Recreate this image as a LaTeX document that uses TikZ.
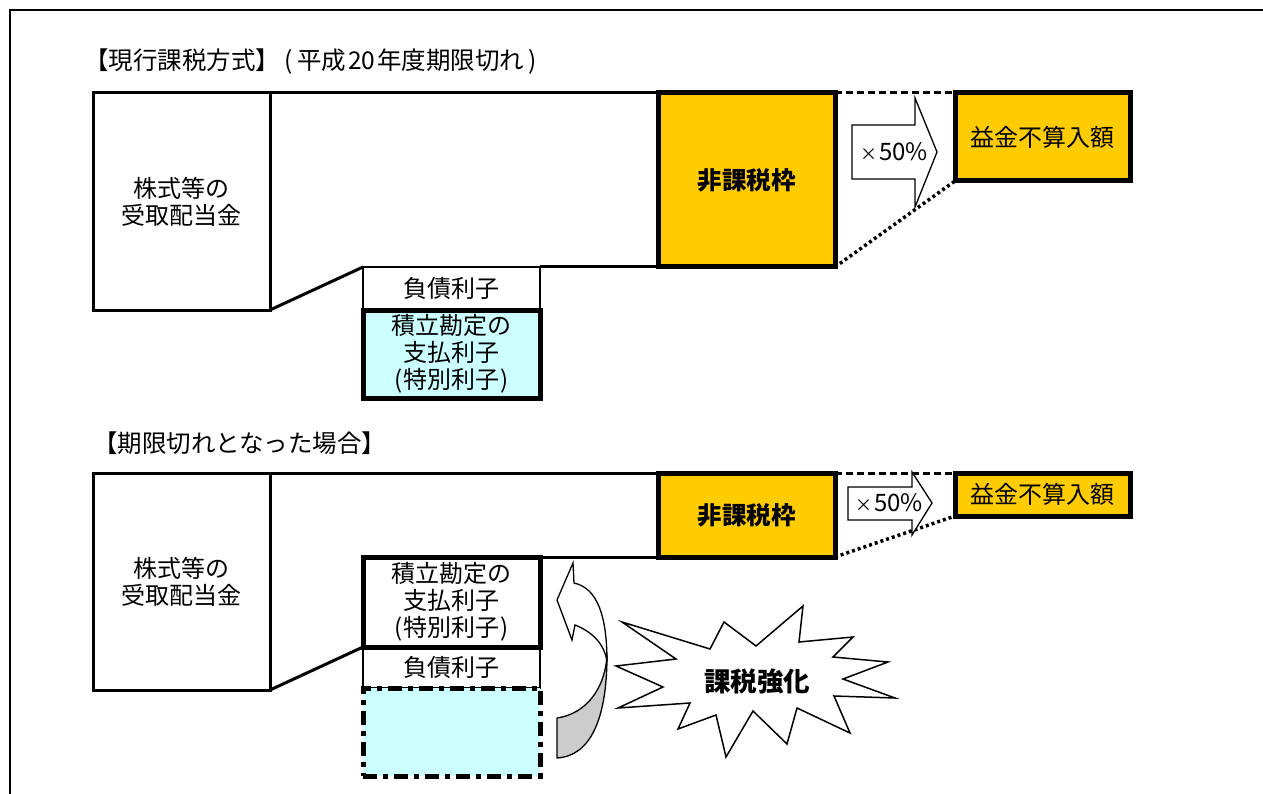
\documentclass[tikz,border=0pt]{standalone}
\usepackage{fontspec}
\setmainfont{Noto Sans CJK JP}
\definecolor{gold}{HTML}{FFCC00}
\definecolor{paleCyan}{HTML}{CCFFFF}
\definecolor{ribbonGrey}{HTML}{CCCCCC}
\newcommand{\smalltimes}{{\fontsize{17}{17}\selectfont ×}\hspace{2pt}}
\begin{document}
\begin{tikzpicture}[x=1pt,y=-1pt,
  every node/.style={inner sep=0pt,outer sep=0pt,align=center,font=\fontsize{24}{27}\selectfont},
  outline/.style={line width=3pt},
  plainbox/.style={draw,line width=3pt,minimum width=177},
  heavybox/.style={draw,line width=5pt,minimum width=177},
  goldbox/.style={draw,line width=5pt,fill=gold},
  thinside/.style={draw,line width=2pt,minimum width=177},
  dashlink/.style={line width=3pt,dash pattern=on 7pt off 4pt},
  dotlink/.style={line width=3.5pt,dash pattern=on 3pt off 3pt},
  blockarrow/.style={draw,line width=1.3pt,fill=white,line join=miter},
  titletext/.style={anchor=west,font=\fontsize{24.5}{27}\selectfont},
  boldtext/.style={font=\fontsize{24.5}{28}\selectfont\bfseries}
]
\useasboundingbox (0,0) rectangle (1263,794);
% outer frame
\coordinate (frameBL) at (10,794);
\coordinate (frameTL) at (10,10);
\coordinate (frameTR) at (1263,10);
\draw[line width=2.2pt] (frameBL) -- (frameTL) -- (frameTR);

% ===== upper part =====
\node[titletext] (title1) at (84,62) {【現行課税方式】\hspace{5pt}(\hspace{4pt}平成\hspace{2pt}20\hspace{2pt}年度期限切れ\hspace{4pt})};
\node[plainbox,minimum height=217] (left1) at (181.5,201.5) {株式等の\\受取配当金};
\node[thinside,minimum height=43,line width=2.5pt] (debt1) at (451.5,288.5) {負債利子};
\node[heavybox,fill=paleCyan,minimum height=88] (res1) at (451.5,354) {積立勘定の\\支払利子\\(\hspace{1pt}特別利子\hspace{1pt})};
\node[goldbox,minimum width=177,minimum height=174,boldtext] (free1) at (746.5,180) {非課税枠};
\node[goldbox,minimum width=175,minimum height=88] (excl1) at (1042.5,137) {益金不算入額};
\draw[outline] (left1.north east) -- (free1.north west);
\draw[outline] (left1.south east) -- (debt1.north west);
\draw[outline] (debt1.north east) -- (free1.south west);
\draw[dashlink] (free1.north east) -- (excl1.north west);
\draw[dotlink] (free1.south east) -- (excl1.south west);
\draw[blockarrow] (852,125) -- (915,125) -- (915,98) -- (937,152) -- (915,207) -- (915,179) -- (852,179) -- cycle;
\node (half1) at (894,152) {\smalltimes 50\%};

% ===== lower part =====
\node[titletext] (title2) at (93,443) {【期限切れとなった場合】};
\node[plainbox,minimum height=217] (left2) at (181.5,581.5) {株式等の\\受取配当金};
\node[goldbox,minimum width=177,minimum height=84,boldtext] (free2) at (746.5,515) {非課税枠};
\node[goldbox,minimum width=175,minimum height=43] (excl2) at (1042.5,494.5) {益金不算入額};
\node[thinside,minimum height=41] (debt2) at (451.5,667.5) {負債利子};
\node[heavybox,fill=white,minimum height=90] (res2) at (451.5,602) {積立勘定の\\支払利子\\(\hspace{1pt}特別利子\hspace{1pt})};
\node[draw,fill=paleCyan,line width=5pt,minimum width=177,minimum height=88,
      dash pattern=on 14pt off 6pt on 5pt off 6pt] (gone2) at (451.5,732) {};
\draw[outline] (left2.north east) -- (free2.north west);
\draw[outline] (left2.south east) -- (debt2.north west);
\draw[outline] (res2.north east) -- (free2.south west);
\draw[dashlink] (free2.north east) -- (excl2.north west);
\draw[dotlink] (free2.south east) -- (excl2.south west);
\draw[blockarrow] (848,487) -- (912,487) -- (912,472) -- (932,503) -- (912,535) -- (912,520) -- (848,520) -- cycle;
\node (half2) at (889,503) {\smalltimes 50\%};

% curved ribbon arrow
\draw[line width=1.3pt,fill=ribbonGrey,line join=round]
  (607,655) .. controls (605,690) and (585,714) .. (557,718) -- (557,758)
  .. controls (590,756) and (607,720) .. (607,655) -- cycle;
\draw[line width=1.3pt,fill=white,line join=miter]
  (607,662) .. controls (607,615) and (597,588) .. (574,583) -- (573,563) -- (557,600)
  -- (572,640) -- (575,625) .. controls (593,632) and (605,645) .. (607,662) -- cycle;

% starburst
\draw[line width=1.5pt,fill=white,line join=miter]
  (622,622) -- (710,649) -- (724,622) -- (756,646) -- (803,606) -- (799,642)
  -- (853,637) -- (833,657) -- (888,662) -- (843,679) -- (895,698) -- (834,696)
  -- (850,733) -- (797,708) -- (787,744) -- (753,711) -- (726,757) -- (716,715)
  -- (678,729) -- (690,703) -- (618,708) -- (663,687) -- (616,666) -- (676,659) -- cycle;
\node[font=\fontsize{26.5}{30}\selectfont\bfseries] (tax) at (757,681) {課税強化};
\end{tikzpicture}
\end{document}
